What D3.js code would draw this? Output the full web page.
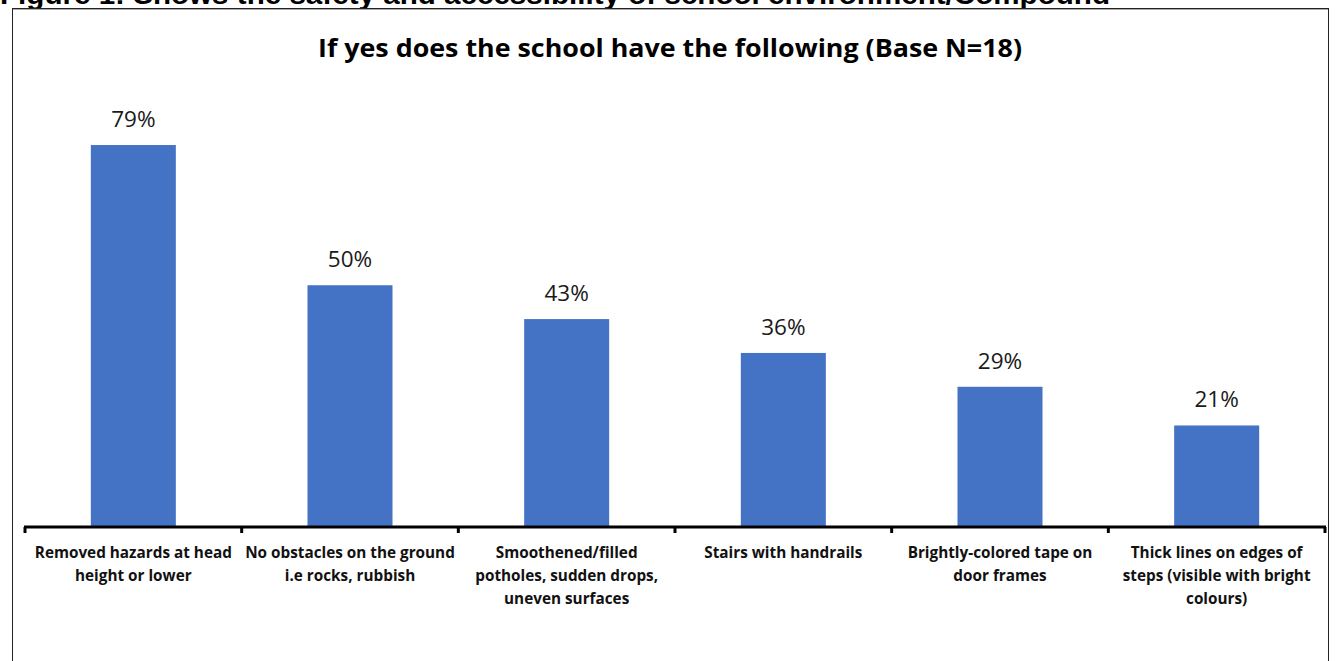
<!DOCTYPE html>
<html><head><meta charset="utf-8">
<script src="https://cdn.jsdelivr.net/npm/d3@7"></script>
<style>html,body{margin:0;padding:0;background:#fff;overflow:hidden}</style>
</head><body>
<script>
const categories = [
  "Removed hazards at head height or lower",
  "No obstacles on the ground i.e rocks, rubbish",
  "Smoothened/filled potholes, sudden drops, uneven surfaces",
  "Stairs with handrails",
  "Brightly-colored tape on door frames",
  "Thick lines on edges of steps (visible with bright colours)"
];
const categoryLines = [
  ["Removed hazards at head", "height or lower"],
  ["No obstacles on the ground", "i.e rocks, rubbish"],
  ["Smoothened/filled", "potholes, sudden drops,", "uneven surfaces"],
  ["Stairs with handrails"],
  ["Brightly-colored tape on", "door frames"],
  ["Thick lines on edges of", "steps (visible with bright", "colours)"]
];
const values = [79, 50, 43, 36, 29, 21];
const chartTitle = "If yes does the school have the following (Base N=18)";
const figureCaption = "Figure 1: Shows the safety and accessibility of school environment/Compound";

const W = 1335, H = 661;
const svg = d3.select("body").append("svg").attr("width", W).attr("height", H);

// figure caption (clipped at top, as in the source page)
svg.append("text").attr("x", 0).attr("y", 4)
  .attr("font-family", "Liberation Sans, Arial, sans-serif").attr("font-weight", "bold")
  .attr("font-size", 28).attr("fill", "#000")
  .attr("textLength", 1110).attr("lengthAdjust", "spacingAndGlyphs")
  .text(figureCaption);

// chart frame
svg.append("rect").attr("x", 12.5).attr("y", 8.5).attr("width", 1316).attr("height", 700)
  .attr("fill", "#fff").attr("stroke", "#222").attr("stroke-width", 1);
svg.append("line").attr("x1", 13).attr("x2", 1328).attr("y1", 9.5).attr("y2", 9.5)
  .attr("stroke", "#aaa").attr("stroke-width", 1);

svg.append("text").attr("x", 670).attr("y", 57).attr("text-anchor", "middle")
  .attr("font-family", "'Open Sans', Lato, sans-serif").attr("font-weight", "bold")
  .attr("font-size", 25).attr("fill", "#000")
  .attr("textLength", 704).attr("lengthAdjust", "spacingAndGlyphs")
  .text(chartTitle);

const x = d3.scaleBand().domain(categories).range([25, 1325]).paddingInner(0).paddingOuter(0);
const y = d3.scaleLinear().domain([0, 100]).range([527, 43.5]);
const barW = 85;

svg.selectAll("rect.bar").data(values).join("rect").attr("class", "bar")
  .attr("x", (d, i) => x(categories[i]) + (x.bandwidth() - barW) / 2)
  .attr("y", d => y(d)).attr("width", barW).attr("height", d => y(0) - y(d))
  .attr("fill", "#4472C4");

svg.selectAll("text.val").data(values).join("text").attr("class", "val")
  .attr("x", (d, i) => x(categories[i]) + x.bandwidth() / 2)
  .attr("y", d => y(d) - 18).attr("text-anchor", "middle")
  .attr("font-family", "'Open Sans', Lato, sans-serif").attr("font-size", 22.5)
  .attr("fill", "#1a1a1a").text(d => d + "%");

// axis
const axis = d3.axisBottom(x).tickSize(0).tickFormat("");
const ag = svg.append("g").attr("transform", "translate(0,527)").call(axis);
ag.select(".domain").attr("stroke", "#000").attr("stroke-width", 3).attr("d", "M24,0H1326");
const bounds = categories.map(c => x(c)).concat([x.range()[1]]);
ag.selectAll("line.tk").data(bounds).join("line").attr("class", "tk")
  .attr("x1", d => d).attr("x2", d => d).attr("y1", 0).attr("y2", 6)
  .attr("stroke", "#000").attr("stroke-width", 3);

const lab = svg.selectAll("text.cat").data(categoryLines).join("text").attr("class", "cat")
  .attr("x", (d, i) => x(categories[i]) + x.bandwidth() / 2)
  .attr("y", 558).attr("text-anchor", "middle")
  .attr("font-family", "'Open Sans', Lato, sans-serif").attr("font-weight", "bold")
  .attr("font-size", 15.3).attr("fill", "#111");
lab.selectAll("tspan").data(d => d).join("tspan")
  .attr("x", function () { return this.parentNode.getAttribute("x"); })
  .attr("dy", (d, j) => j === 0 ? 0 : 23).text(d => d);
</script>
</body></html>
